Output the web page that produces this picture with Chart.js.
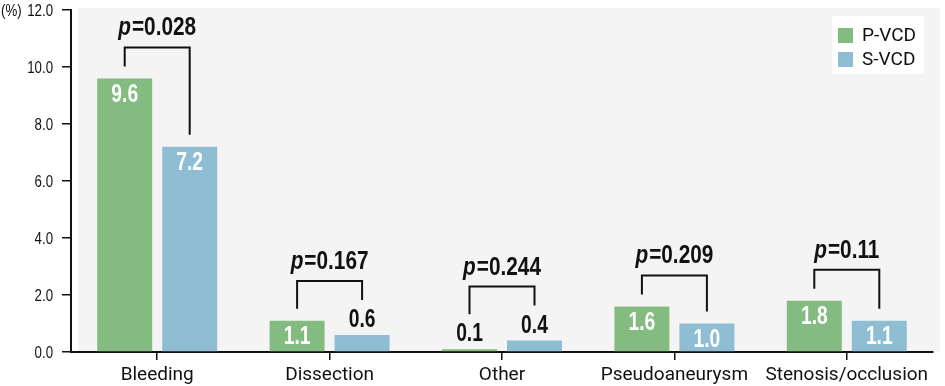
<!DOCTYPE html>
<html><head><meta charset="utf-8">
<script src="https://cdn.jsdelivr.net/npm/chart.js@4"></script>
<style>html,body{margin:0;padding:0;background:#fff}#wrap{width:945px;height:386px}</style>
</head><body><div id="wrap"><canvas id="c" width="945" height="386"></canvas></div>
<script>
const categories = ['Bleeding', 'Dissection', 'Other', 'Pseudoaneurysm', 'Stenosis/occlusion'];
const pvcdValues = [9.6, 1.1, 0.1, 1.6, 1.8];
const svcdValues = [7.2, 0.6, 0.4, 1.0, 1.1];
const pValues = ['0.028', '0.167', '0.244', '0.209', '0.11'];
const seriesNames = ['P-VCD', 'S-VCD'];
const yTickValues = [0, 2, 4, 6, 8, 10, 12];
const yUnit = '(%)';

const GREEN = '#84bb80';
const BLUE = '#8fbed4';
const INK = '#111111';
const NARROW = "'Liberation Sans',Arial,sans-serif";
const SANS = "Roboto,'Noto Sans',sans-serif";

// draw text horizontally condensed (no condensed face installed)
function condText(ctx, str, x, y, font, sx, align) {
  ctx.save();
  ctx.font = font;
  const w = ctx.measureText(str).width * sx;
  let left = x;
  if (align === 'center') left = x - w / 2;
  else if (align === 'right') left = x - w;
  ctx.translate(left, y);
  ctx.scale(sx, 1);
  ctx.textAlign = 'left';
  ctx.fillText(str, 0, 0);
  ctx.restore();
  return w;
}
function condWidth(ctx, str, font, sx) {
  ctx.save(); ctx.font = font; const w = ctx.measureText(str).width * sx; ctx.restore(); return w;
}

const overlay = {
  id: 'overlay',
  beforeDraw(chart) {
    const {ctx, chartArea: a} = chart;
    ctx.save();
    ctx.fillStyle = '#ffffff';
    ctx.fillRect(0, 0, chart.width, chart.height);
    ctx.fillStyle = '#f4f4f4';
    ctx.fillRect(a.left + 7, a.top - 2, a.right - a.left, a.bottom - a.top + 2);
    ctx.restore();
  },
  afterDatasetsDraw(chart) {
    const {ctx} = chart;
    ctx.save();
    const tops = [[], []];
    const vfont = 'bold 26px ' + NARROW;
    [0, 1].forEach(di => {
      const meta = chart.getDatasetMeta(di);
      const vals = chart.data.datasets[di].data;
      meta.data.forEach((bar, i) => {
        const v = vals[i];
        const inside = v >= 1.0;
        ctx.textBaseline = 'middle';
        if (inside) {
          ctx.fillStyle = '#ffffff';
          condText(ctx, v.toFixed(1), bar.x, bar.y + 16, vfont, 0.74, 'center');
          tops[di][i] = bar.y;
        } else {
          ctx.fillStyle = INK;
          condText(ctx, v.toFixed(1), bar.x, bar.y - 15, vfont, 0.74, 'center');
          tops[di][i] = bar.y - 23;
        }
      });
    });
    // brackets with p-values
    const m0 = chart.getDatasetMeta(0), m1 = chart.getDatasetMeta(1);
    ctx.strokeStyle = INK;
    ctx.lineWidth = 2;
    categories.forEach((c, i) => {
      const x0 = m0.data[i].x, x1 = m1.data[i].x;
      const t0 = tops[0][i], t1 = tops[1][i];
      const top = Math.min(t0, t1) - 31;
      ctx.beginPath();
      ctx.moveTo(x0, t0 - 12);
      ctx.lineTo(x0, top);
      ctx.lineTo(x1, top);
      ctx.lineTo(x1, t1 - 12);
      ctx.stroke();
      const pf = 'italic bold 26px ' + NARROW;
      const rf = 'bold 26px ' + NARROW;
      const rest = '=' + pValues[i];
      const sx = 0.8;
      const wp = condWidth(ctx, 'p', pf, sx);
      const wr = condWidth(ctx, rest, rf, sx);
      const cx = (x0 + x1) / 2;
      const left = cx - (wp + wr + 1) / 2;
      ctx.textBaseline = 'alphabetic';
      ctx.fillStyle = INK;
      condText(ctx, 'p', left, top - 12, pf, sx, 'left');
      condText(ctx, rest, left + wp + 1, top - 12, rf, sx, 'left');
    });
    ctx.restore();
  },
  afterDraw(chart) {
    const {ctx} = chart;
    const y = chart.scales.y;
    ctx.save();
    ctx.fillStyle = INK;
    ctx.textBaseline = 'middle';
    const tf = '17px ' + NARROW;
    yTickValues.forEach(v => {
      condText(ctx, v.toFixed(1), 53, y.getPixelForValue(v) + 1, tf, 0.78, 'right');
    });
    condText(ctx, yUnit, 1, y.getPixelForValue(12) + 1, tf, 0.78, 'left');
    // legend
    const a = chart.chartArea;
    const lx = a.right - 101, ly = a.top + 6;
    ctx.fillStyle = '#ffffff';
    ctx.fillRect(lx, ly, 92, 58);
    const colors = [GREEN, BLUE];
    ctx.font = '19px ' + SANS;
    ctx.textAlign = 'left';
    seriesNames.forEach((n, i) => {
      ctx.fillStyle = colors[i];
      ctx.fillRect(lx + 6, ly + 12 + i * 24, 15, 15);
      ctx.fillStyle = INK;
      ctx.textBaseline = 'middle';
      ctx.fillText(n, lx + 30, ly + 20 + i * 24);
    });
    ctx.restore();
  }
};

new Chart(document.getElementById('c'), {
  type: 'bar',
  data: {
    labels: categories,
    datasets: [
      {label: seriesNames[0], data: pvcdValues, backgroundColor: GREEN, categoryPercentage: 0.754, barPercentage: 0.846},
      {label: seriesNames[1], data: svcdValues, backgroundColor: BLUE, categoryPercentage: 0.754, barPercentage: 0.846}
    ]
  },
  options: {
    responsive: false,
    animation: false,
    devicePixelRatio: 1,
    layout: {padding: {top: 10, right: 12, left: 0, bottom: 0}},
    plugins: {legend: {display: false}, tooltip: {enabled: false}},
    scales: {
      x: {
        grid: {display: true, drawOnChartArea: false, drawTicks: true, tickLength: 8, color: INK, lineWidth: 1.5, offset: false},
        border: {display: true, color: INK, width: 2},
        ticks: {color: INK, font: {family: SANS, size: 19}, padding: 4},
        afterFit(s) { s.height = 34; }
      },
      y: {
        min: 0, max: 12,
        afterBuildTicks(s) { s.ticks = yTickValues.map(v => ({value: v})); },
        grid: {display: true, drawOnChartArea: false, drawTicks: true, tickLength: 9, color: INK, lineWidth: 1.5},
        border: {display: true, color: INK, width: 2},
        ticks: {display: false},
        afterFit(s) { s.width = 71; }
      }
    }
  },
  plugins: [overlay]
});
</script>
</body></html>
